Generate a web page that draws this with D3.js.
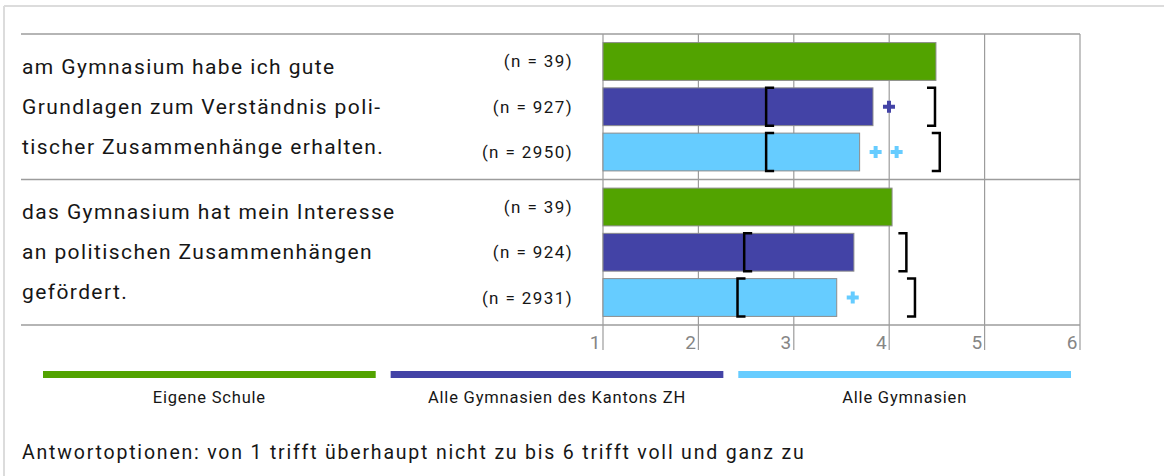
<!DOCTYPE html>
<html>
<head>
<meta charset="utf-8">
<script src="https://cdn.jsdelivr.net/npm/d3@7"></script>
<style>
  html, body { margin: 0; padding: 0; background: #fff; }
  svg { display: block; font-family: Roboto, "Open Sans", sans-serif; }
</style>
</head>
<body>
<div id="chart"></div>
<script>
// Item wording, split into the lines shown left of the bars
const itemLines = [
  ["am Gymnasium habe ich gute", "Grundlagen zum Verständnis poli-", "tischer Zusammenhänge erhalten."],
  ["das Gymnasium hat mein Interesse", "an politischen Zusammenhängen", "gefördert."]
];
const seriesNames = ["Eigene Schule", "Alle Gymnasien des Kantons ZH", "Alle Gymnasien"];
const seriesColors = ["#52a300", "#4343a6", "#66ccff"];

// Sample sizes per item (own school, canton, all)
const nEigene = [39, 39];
const nKanton = [927, 924];
const nAlle = [2950, 2931];

// Mean ratings on the 1–6 scale
const meanEigene = [4.49, 4.03];
const meanKanton = [3.83, 3.63];
const meanAlle = [3.69, 3.45];

// Ranges shown as brackets
const rangeLowKanton = [2.71, 2.48];
const rangeHighKanton = [4.48, 4.18];
const rangeLowAlle = [2.71, 2.41];
const rangeHighAlle = [4.53, 4.27];

// Number of "+" marks after each bar
const plusEigene = [0, 0];
const plusKanton = [1, 0];
const plusAlle = [2, 1];

const tickValues = [1, 2, 3, 4, 5, 6];
const footnote = "Antwortoptionen: von 1 trifft überhaupt nicht zu bis 6 trifft voll und ganz zu";

const W = 1164, H = 476;
const svg = d3.select("#chart").append("svg").attr("width", W).attr("height", H);

// outer frame (top and left edges)
svg.append("line").attr("x1", 4).attr("x2", W).attr("y1", 6).attr("y2", 6)
  .attr("stroke", "#dcdcdc").attr("stroke-width", 2);
svg.append("line").attr("x1", 4).attr("x2", 4).attr("y1", 6).attr("y2", H)
  .attr("stroke", "#dcdcdc").attr("stroke-width", 2);

const plotLeft = 603, plotRight = 1080, plotTop = 34, plotBottom = 325;
const textLeft = 21;
const textColor = "#161616";

const x = d3.scaleLinear().domain([1, 6]).range([plotLeft, plotRight]);
const groupY = d3.scaleBand().domain(d3.range(itemLines.length)).range([plotTop, plotBottom]);
const barY = d3.scaleBand().domain(d3.range(3)).range([0, groupY.bandwidth()])
  .paddingInner(0.165).paddingOuter(0.19);
const bw = barY.bandwidth();

const gridColor = "#9c9c9c";

// vertical grid lines, extended below the axis as ticks
svg.append("g").selectAll("line").data(tickValues).join("line")
  .attr("x1", d => x(d)).attr("x2", d => x(d))
  .attr("y1", plotTop).attr("y2", plotBottom + 25)
  .attr("stroke", gridColor).attr("stroke-width", 1.2);

// horizontal rules: top, between items, bottom axis
const rules = [plotTop].concat(d3.range(itemLines.length).map(i => groupY(i) + groupY.bandwidth()));
svg.append("g").selectAll("line").data(rules).join("line")
  .attr("x1", textLeft).attr("x2", plotRight)
  .attr("y1", d => d).attr("y2", d => d)
  .attr("stroke", gridColor).attr("stroke-width", 1.5);

// axis labels
const axis = d3.axisBottom(x).tickValues(tickValues).tickSize(0).tickFormat(d3.format("d"));
const axG = svg.append("g").attr("transform", `translate(0,${plotBottom})`).call(axis);
axG.select(".domain").remove();
axG.selectAll("text")
  .attr("text-anchor", "end").attr("dx", -3).attr("y", 24).attr("dy", 0)
  .attr("font-size", 19).attr("fill", "#858585").attr("font-family", "Roboto, sans-serif");

// item text
itemLines.forEach((lines, i) => {
  svg.append("g").selectAll("text").data(lines).join("text")
    .attr("x", textLeft + 1)
    .attr("y", (d, k) => groupY(i) + 39.5 + k * 40)
    .attr("font-size", 21).attr("fill", textColor)
    .style("letter-spacing", "1.4px")
    .text(d => d);
});

// rows per item
const rows = [];
for (let i = 0; i < itemLines.length; i++) {
  rows.push({ item: i, s: 0, n: nEigene[i], mean: meanEigene[i], lo: null, hi: null, plus: plusEigene[i] });
  rows.push({ item: i, s: 1, n: nKanton[i], mean: meanKanton[i], lo: rangeLowKanton[i], hi: rangeHighKanton[i], plus: plusKanton[i] });
  rows.push({ item: i, s: 2, n: nAlle[i], mean: meanAlle[i], lo: rangeLowAlle[i], hi: rangeHighAlle[i], plus: plusAlle[i] });
}
const rowTop = r => groupY(r.item) + barY(r.s);

// sample size labels
svg.append("g").selectAll("text").data(rows).join("text")
  .attr("x", 573).attr("y", r => rowTop(r) + bw / 2 + 6)
  .attr("text-anchor", "end")
  .attr("font-size", 17).attr("fill", textColor)
  .style("letter-spacing", "1.4px")
  .text(r => `(n = ${r.n})`);

// bars
svg.append("g").selectAll("rect").data(rows).join("rect")
  .attr("x", x(1)).attr("y", rowTop)
  .attr("width", r => x(r.mean) - x(1)).attr("height", bw)
  .attr("fill", r => seriesColors[r.s])
  .attr("stroke", "#8c8c8c").attr("stroke-width", 1);

// range brackets
const tick = 8;
const bracketRows = rows.filter(r => r.lo != null);
svg.append("g").selectAll("path.lo").data(bracketRows).join("path")
  .attr("d", r => {
    const xl = x(r.lo), t = rowTop(r), b = t + bw;
    return `M${xl + tick},${t}H${xl}V${b}H${xl + tick}`;
  })
  .attr("fill", "none").attr("stroke", "#000").attr("stroke-width", 2.5);
svg.append("g").selectAll("path.hi").data(bracketRows).join("path")
  .attr("d", r => {
    const xr = x(r.hi), t = rowTop(r), b = t + bw;
    return `M${xr - tick},${t}H${xr}V${b}H${xr - tick}`;
  })
  .attr("fill", "none").attr("stroke", "#000").attr("stroke-width", 2.5);

// "+" marks after the bars
const plusData = [];
rows.forEach(r => { for (let k = 0; k < r.plus; k++) plusData.push({ r, k }); });
const cross = d3.symbol(d3.symbolCross, 80);
svg.append("g").selectAll("path").data(plusData).join("path")
  .attr("d", cross)
  .attr("transform", d => `translate(${x(d.r.mean) + 16 + d.k * 21},${rowTop(d.r) + bw / 2})`)
  .attr("fill", d => seriesColors[d.r.s]);

// legend
const legendX = d3.scaleBand().domain(seriesNames).range([43, 1071]).paddingInner(0.043);
const lg = svg.append("g");
lg.selectAll("rect").data(seriesNames).join("rect")
  .attr("x", d => legendX(d)).attr("y", 371)
  .attr("width", legendX.bandwidth()).attr("height", 7)
  .attr("fill", (d, i) => seriesColors[i]);
lg.selectAll("text").data(seriesNames).join("text")
  .attr("x", d => legendX(d) + legendX.bandwidth() / 2).attr("y", 403)
  .attr("text-anchor", "middle")
  .attr("font-size", 16.5).attr("fill", textColor)
  .style("letter-spacing", "0.8px")
  .text(d => d);

// footnote
svg.append("text")
  .attr("x", textLeft + 1).attr("y", 458.5)
  .attr("font-size", 19.5).attr("fill", textColor)
  .style("letter-spacing", "1.8px")
  .text(footnote);
</script>
</body>
</html>
